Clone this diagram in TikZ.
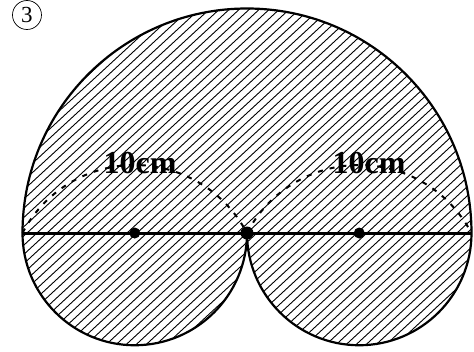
\documentclass[tikz,border=0pt]{standalone}
\usepackage{fontspec}
\setmainfont{Liberation Serif}
\usepackage{tikz}
\usetikzlibrary{positioning}

\tikzset{
  outline/.style={line width=2.2pt},
  hatch/.style={line width=0.9pt},
  dimline/.style={line width=2pt,dash pattern=on 5pt off 7pt},
  lenlabel/.style={font=\fontsize{32}{32}\selectfont\bfseries,inner sep=0pt},
  dot/.style={circle,fill=black,inner sep=0pt,minimum size=11pt},
  tag/.style={circle,draw,line width=0.7pt,inner sep=0pt,minimum size=29pt,font=\fontsize{23}{23}\selectfont}
}

\begin{document}
\begin{tikzpicture}[x=1pt,y=1pt]
  \useasboundingbox (-247,-118) rectangle (227,233);
  \def\rbig{224.5}\def\rsmall{112.25}
  \coordinate (M) at (0,0);
  \coordinate (L) at (-\rbig,0);
  \coordinate (R) at (\rbig,0);
  \coordinate (C1) at (-\rsmall,0);
  \coordinate (C2) at (\rsmall,0);
  % hatched region
  \begin{scope}
    \clip (L) arc[start angle=180,end angle=0,radius=\rbig]
      arc[start angle=0,end angle=-180,radius=\rsmall]
      arc[start angle=0,end angle=-180,radius=\rsmall] -- cycle;
    \foreach \i in {-480,-470,...,480}
      \draw[hatch] (\i-260,-240) -- (\i+260,240);
  \end{scope}
  \draw[outline] (L) arc[start angle=180,end angle=0,radius=\rbig]
    arc[start angle=0,end angle=-180,radius=\rsmall]
    arc[start angle=0,end angle=-180,radius=\rsmall] -- cycle;
  \draw[line width=3pt] (L) -- (R);
  % dashed arcs
  \draw[dimline] (L) arc[start angle=152.4,end angle=27.6,radius=126.6];
  \draw[dimline] (M) arc[start angle=152.4,end angle=27.6,radius=126.6];
  \node[lenlabel] (len1) at (-107,70) {10cm};
  \node[lenlabel] (len2) at (122,70) {10cm};
  % centres
  \node[dot] (d1) at (C1) {};
  \node[dot,minimum size=13pt] (d0) at (M) {};
  \node[dot] (d2) at (C2) {};
  \node[tag] (num) at (-220,218) {3};
\end{tikzpicture}
\end{document}
